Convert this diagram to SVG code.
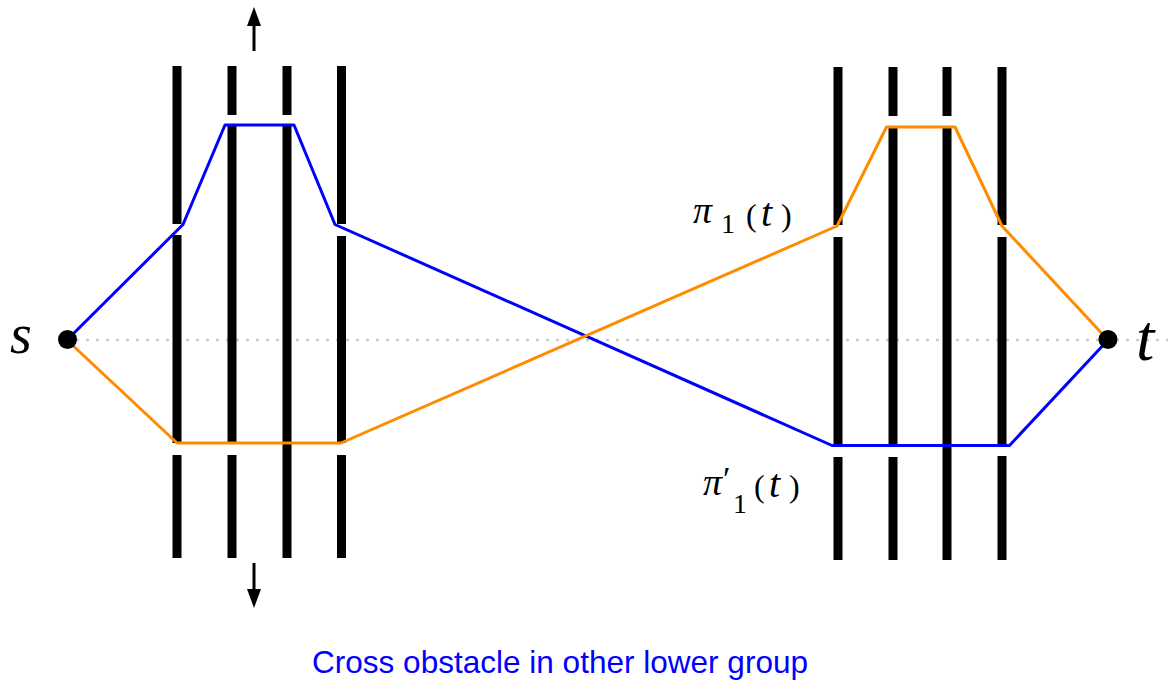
<svg xmlns="http://www.w3.org/2000/svg" width="1170" height="681" viewBox="0 0 1170 681">
<style>
.bar{stroke:#000;stroke-width:9;fill:none;stroke-linecap:butt}
.blue{stroke:#0000ff;stroke-width:3;fill:none;stroke-linejoin:round}
.orange{stroke:#ff8c00;stroke-width:3;fill:none;stroke-linejoin:round}
.axis{stroke:#cccccc;stroke-width:2.5;stroke-dasharray:3 7;fill:none}
.arr{stroke:#000;stroke-width:3;fill:none}
.math{font-family:"Liberation Serif","DejaVu Serif",serif;fill:#000}
.it{font-style:italic}
.cap{font-family:"Liberation Sans","DejaVu Sans",sans-serif;fill:#0000ff;font-size:31.5px}
</style>
<defs>
<marker id="ah" markerUnits="userSpaceOnUse" markerWidth="19" markerHeight="14" refX="0" refY="7" orient="auto">
<path d="M0,0 L19,7 L0,14 z" fill="#000"/>
</marker>
</defs>
<rect width="1170" height="681" fill="#fff"/>
<g id="axis">
<line class="axis" x1="76" y1="340" x2="1168" y2="340"/>
</g>
<g id="left-obstacles">
<path class="bar" d="M177,66V224M177,235V443M177,455V558"/>
<path class="bar" d="M232,66V115M232,125V443M232,455V558"/>
<path class="bar" d="M287,66V115M287,125V558"/>
<path class="bar" d="M341.5,66V224M341.5,236V443M341.5,455V558"/>
</g>
<g id="right-obstacles">
<path class="bar" d="M838,67V225M838,237V445M838,457V560"/>
<path class="bar" d="M893,67V116M893,127V445M893,457V560"/>
<path class="bar" d="M947,67V116M947,127V560"/>
<path class="bar" d="M1002,67V225M1002,237V445M1002,456V560"/>
</g>
<g id="connectors">
<polyline id="path-blue" class="blue" points="67,340 183,224.5 225,125 294,125 335,224.5 832,445.5 1009.5,445.5 1108,340"/>
<polyline id="path-orange" class="orange" points="67,340 177,443 341,443 837,226 886.5,127 955,127 1002,226 1108,340"/>
<line class="arr" x1="254" y1="51" x2="254" y2="26" marker-end="url(#ah)"/>
<line class="arr" x1="254" y1="563" x2="254" y2="589" marker-end="url(#ah)"/>
</g>
<g id="node-s">
<circle cx="67.5" cy="339.5" r="9.5" fill="#000"/>
<text class="math it" x="10" y="353" font-size="56">s</text>
</g>
<g id="node-t">
<circle cx="1108" cy="339.5" r="9.5" fill="#000"/>
<text class="math it" x="1136" y="360" font-size="66">t</text>
</g>
<g id="label-pi1">
<text class="math"><tspan class="it" x="693" y="223" font-size="38">π</tspan><tspan x="721" y="233" font-size="28">1</tspan><tspan x="746" y="226" font-size="32">(</tspan><tspan class="it" x="761" y="226" font-size="40">t</tspan><tspan x="781" y="226" font-size="32">)</tspan></text>
</g>
<g id="label-pi1prime">
<text class="math"><tspan class="it" x="703" y="495" font-size="38">π</tspan><tspan x="723" y="490" font-size="34">′</tspan><tspan x="733" y="513" font-size="28">1</tspan><tspan x="754" y="497" font-size="32">(</tspan><tspan class="it" x="769" y="497" font-size="40">t</tspan><tspan x="789" y="497" font-size="32">)</tspan></text>
</g>
<g id="caption">
<text class="cap" x="312" y="673" textLength="496" lengthAdjust="spacingAndGlyphs">Cross obstacle in other lower group</text>
</g>
</svg>
